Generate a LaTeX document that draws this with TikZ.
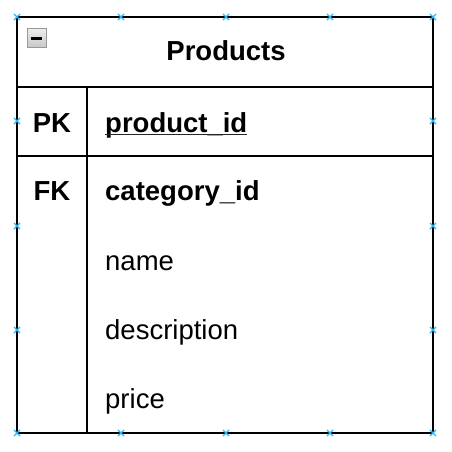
\documentclass[tikz,border=0pt]{standalone}
\usepackage{fontspec}
\setmainfont{Liberation Sans}
\usetikzlibrary{positioning, shapes.misc}
\definecolor{pinblue}{RGB}{41,182,242}

\begin{document}
\begin{tikzpicture}[x=1pt, y=-1pt,
  tline/.style={line width=2pt, black},
  hdr/.style={font=\fontsize{27.5}{30}\selectfont\bfseries, inner sep=0pt, anchor=base},
  keyt/.style={font=\fontsize{27.5}{30}\selectfont\bfseries, inner sep=0pt, anchor=base},
  fld/.style={font=\fontsize{27.5}{30}\selectfont, inner sep=0pt, anchor=base west},
  pin/.style={cross out, draw=pinblue, line width=1.1pt, minimum size=5pt, inner sep=0pt},
]
\useasboundingbox (0,0) rectangle (452,452);

% Table frame
\coordinate (tl) at (17,17);
\coordinate (br) at (433,433);
\draw[tline] (tl) rectangle (br);
\draw[tline] (17,87) -- (433,87);
\draw[tline] (17,156) -- (433,156);
\draw[tline] (87,87) -- (87,433);

% Collapse icon
\shade[top color=gray!15, bottom color=gray!45, draw=gray!80, line width=1pt]
  (27,29) rectangle (46,48);
\draw[line width=2.5pt] (31,38.5) -- (42,38.5);

% Title
\node[hdr] (title) at (226,60) {Products};

% Key column
\node[keyt] (pk) at (52,132) {PK};
\node[keyt] (fk) at (52,200) {FK};

% Fields
\node[fld, font=\fontsize{27.5}{30}\selectfont\bfseries] (pid) at (105,132) {product\_id};
\draw[line width=1.6pt, black!85] ([yshift=-2.5pt]pid.base west) -- ([yshift=-2.5pt]pid.base east);
\node[fld, font=\fontsize{27.5}{30}\selectfont\bfseries] (cid) at (105,200) {category\_id};
\node[fld] (nm)   at (105,270) {name};
\node[fld] (desc) at (105,339) {description};
\node[fld] (pr)   at (105,408) {price};

% Connection points
\foreach \p in {17,121,226,330,433} {
  \node[pin] at (\p,17) {};
  \node[pin] at (\p,433) {};
}
\foreach \p in {121,226,330} {
  \node[pin] at (17,\p) {};
  \node[pin] at (433,\p) {};
}
\end{tikzpicture}
\end{document}
